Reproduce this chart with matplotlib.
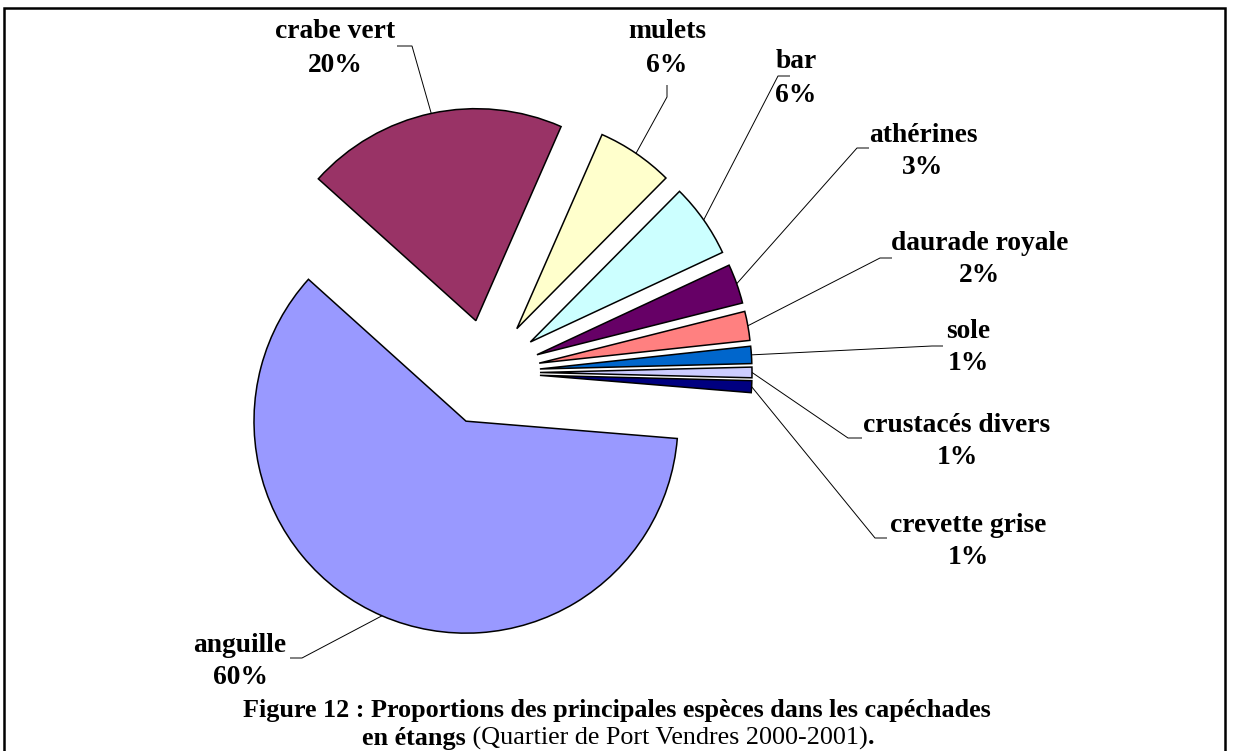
import matplotlib
matplotlib.use("Agg")
import matplotlib.pyplot as plt
from matplotlib.patches import Rectangle
import numpy as np

# ---- data ----
species = ["crabe vert", "mulets", "bar", "athérines", "daurade royale",
           "sole", "crustacés divers", "crevette grise", "anguille"]
shares = [19.8, 5.8, 5.6, 3.0, 2.2, 1.3, 0.8, 0.9, 60.0]
colors = ["#993366", "#FFFFCC", "#CCFFFF", "#660066", "#FF8080",
          "#0066CC", "#CCCCFF", "#000080", "#9999FF"]
caption_bold1 = "Figure 12 : Proportions des principales espèces dans les capéchades"
caption_bold2 = "en étangs"
caption_reg2 = " (Quartier de Port Vendres 2000-2001)"

# ---- layout (pixel space, y up) ----
W, H = 1233, 751
R = 212
label_layout = {
    "crabe vert":       ((335, 751 - 32), (397, 751 - 46), (412, 751 - 46)),
    "mulets":           ((667, 751 - 32), (667, 751 - 85), (667, 751 - 97)),
    "bar":              ((796, 751 - 62), (790, 751 - 76), (778, 751 - 76)),
    "athérines":        ((923, 751 - 135), (869, 751 - 148), (857, 751 - 148)),
    "daurade royale":   ((980, 751 - 243), (892, 751 - 258), (880, 751 - 258)),
    "sole":             ((968, 751 - 331), (943, 751 - 346), (932, 751 - 346)),
    "crustacés divers": ((957, 751 - 425), (862, 751 - 438), (848, 751 - 438)),
    "crevette grise":   ((968, 751 - 525), (887, 751 - 538), (875, 751 - 538)),
    "anguille":         ((240, 751 - 645), (290, 751 - 658), (302, 751 - 658)),
}
line_gap = 33
serif = ["Liberation Serif", "DejaVu Serif"]
lab_size = 19.8

fig = plt.figure(figsize=(W / 100, H / 100), dpi=100)
ax = fig.add_axes([0, 0, 1, 1])

total = sum(shares)
wedges, _ = ax.pie(shares, colors=colors, startangle=138, counterclock=False,
                   explode=[0.25 * R] * len(shares), radius=R,
                   center=(487, 751 - 372.5),
                   wedgeprops=dict(edgecolor="black", linewidth=1.1),
                   frame=True)
ax.set_xlim(0, W)
ax.set_ylim(0, H)
ax.set_aspect("equal")
ax.axis("off")

for w, name, val in zip(wedges, species, shares):
    mid = np.deg2rad((w.theta1 + w.theta2) / 2)
    cx, cy = w.center
    ax_pt = (cx + w.r * np.cos(mid), cy + w.r * np.sin(mid))
    (tx, ty), e_text, e_pie = label_layout[name]
    ax.plot([ax_pt[0], e_pie[0], e_text[0]], [ax_pt[1], e_pie[1], e_text[1]],
            color="black", linewidth=0.7, solid_capstyle="butt")
    pct = round(val / total * 100)
    ax.text(tx, ty, name, ha="center", va="center", fontsize=lab_size,
            fontweight="bold", family=serif)
    ax.text(tx, ty - line_gap, f"{pct}%", ha="center", va="center",
            fontsize=lab_size, fontweight="bold", family=serif)

# frame
ax.add_patch(Rectangle((4, -20), 1221, 751 - 8 + 20, fill=False,
                       edgecolor="black", linewidth=1.8, clip_on=False))

# caption
cap_size = 18.8
ax.text(617, 751 - 711, caption_bold1, ha="center", va="center",
        fontsize=cap_size, fontweight="bold", family=serif)
t1 = ax.text(0, 751 - 738, caption_bold2, ha="left", va="center",
             fontsize=cap_size, fontweight="bold", family=serif)
t2 = ax.annotate(caption_reg2, xy=(1, 0), xycoords=t1, ha="left", va="bottom",
                 fontsize=cap_size, fontweight="normal", family=serif)
t3 = ax.annotate(".", xy=(1, 0), xycoords=t2, ha="left", va="bottom",
                 fontsize=cap_size, fontweight="bold", family=serif)
fig.canvas.draw()
r = fig.canvas.get_renderer()
b1 = t1.get_window_extent(r)
b3 = t3.get_window_extent(r)
total_w = b3.x1 - b1.x0
t1.set_x(618 - total_w / 2)

fig.savefig("out.png", dpi=100)
